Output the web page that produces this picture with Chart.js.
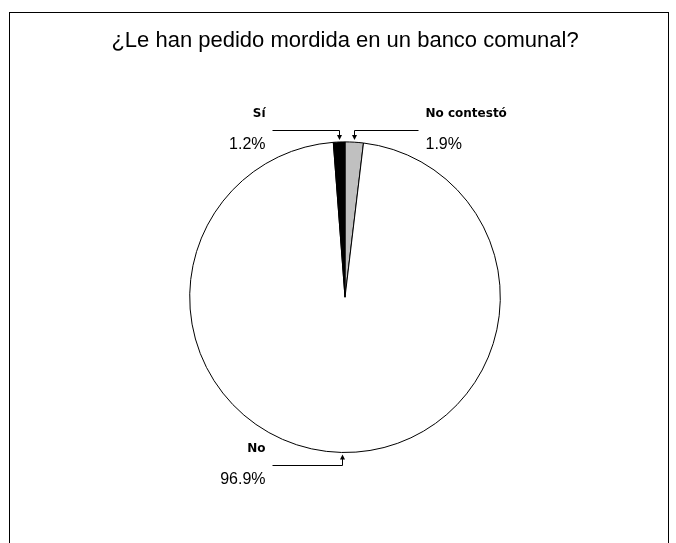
<!DOCTYPE html>
<html lang="es">
<head>
<meta charset="utf-8">
<title>Mordida en banco comunal</title>
<script src="https://cdn.jsdelivr.net/npm/chart.js@4.4.1/dist/chart.umd.min.js"></script>
<style>
    html, body { margin: 0; padding: 0; background: #fff; }
    #hoja { position: relative; width: 676px; height: 543px; overflow: hidden; }
    #marco {
        position: absolute; left: 9px; top: 12px;
        width: 660px; height: 600px;
        box-sizing: border-box; border: 1px solid #000;
    }
    #grafico { position: absolute; left: 14px; top: 0; display: block; }
</style>
</head>
<body>
<div id="hoja">
    <div id="marco"></div>
    <canvas id="grafico" width="662" height="543"></canvas>
</div>
<script>
const titulo = '¿Le han pedido mordida en un banco comunal?';

// orden en el sentido del reloj, empezando a las 12
const categorias = ['No contestó', 'No', 'Sí'];
const porcentajes = [1.9, 96.9, 1.2];
const colores = ['#c0c0c0', '#ffffff', '#000000'];

// etiqueta de cada rebanada: nombre en negrita, línea con flecha y porcentaje
const etiquetasConFlecha = {
    id: 'etiquetasConFlecha',
    afterDatasetsDraw(chart) {
        const ctx = chart.ctx;
        const arcos = chart.getDatasetMeta(0).data;

        ctx.save();
        ctx.strokeStyle = '#000';
        ctx.fillStyle = '#000';
        ctx.lineWidth = 1;

        arcos.forEach((arco, i) => {
            const { x, y, outerRadius, startAngle, endAngle } =
                arco.getProps(['x', 'y', 'outerRadius', 'startAngle', 'endAngle'], true);

            const medio = (startAngle + endAngle) / 2;
            const px = Math.round(x + Math.cos(medio) * outerRadius) + 0.5;
            const arriba = Math.sin(medio) < 0;
            const izquierda = px < x;
            const sentido = arriba ? -1 : 1;

            const lineaY = Math.round(y + sentido * (outerRadius + 12)) + 0.5;
            const puntaY = y + sentido * (outerRadius + 2);
            const finX = Math.round(x + (izquierda ? -73 : 73)) + 0.5;

            // línea en codo
            ctx.beginPath();
            ctx.moveTo(finX, lineaY);
            ctx.lineTo(px, lineaY);
            ctx.lineTo(px, puntaY + sentido * 3);
            ctx.stroke();

            // punta de flecha
            ctx.beginPath();
            ctx.moveTo(px, puntaY);
            ctx.lineTo(px - 2.5, puntaY + sentido * 5);
            ctx.lineTo(px + 2.5, puntaY + sentido * 5);
            ctx.closePath();
            ctx.fill();

            const textoX = izquierda ? finX - 7 : finX + 7;
            ctx.textAlign = izquierda ? 'right' : 'left';
            ctx.textBaseline = 'alphabetic';

            ctx.font = 'bold 12px "DejaVu Sans"';
            ctx.fillText(categorias[i], textoX, lineaY - 13.5);

            ctx.font = '16px "Liberation Sans"';
            ctx.fillText(`${porcentajes[i].toFixed(1)}%`, textoX, lineaY + 18.5);
        });

        ctx.restore();
    }
}

let data = {
    labels: categorias,
    datasets: [{
        data: porcentajes,
        backgroundColor: colores,
        borderColor: '#000',
        borderWidth: 1,
        hoverOffset: 0
    }]
}

let options = {
    responsive: false,
    animation: false,
    rotation: 0,
    layout: {
        padding: { top: 0, left: 0, right: 0, bottom: 90 }
    },
    plugins: {
        legend: { display: false },
        tooltip: { enabled: false },
        title: {
            display: true,
            text: titulo,
            color: '#000',
            font: { family: '"Liberation Sans", Arial, sans-serif', size: 22, weight: 'normal' },
            padding: { top: 28, bottom: 87 }
        }
    }
}

new Chart(document.getElementById('grafico'), {
    type: 'pie',
    data: data,
    options: options,
    plugins: [etiquetasConFlecha]
});
</script>
</body>
</html>
